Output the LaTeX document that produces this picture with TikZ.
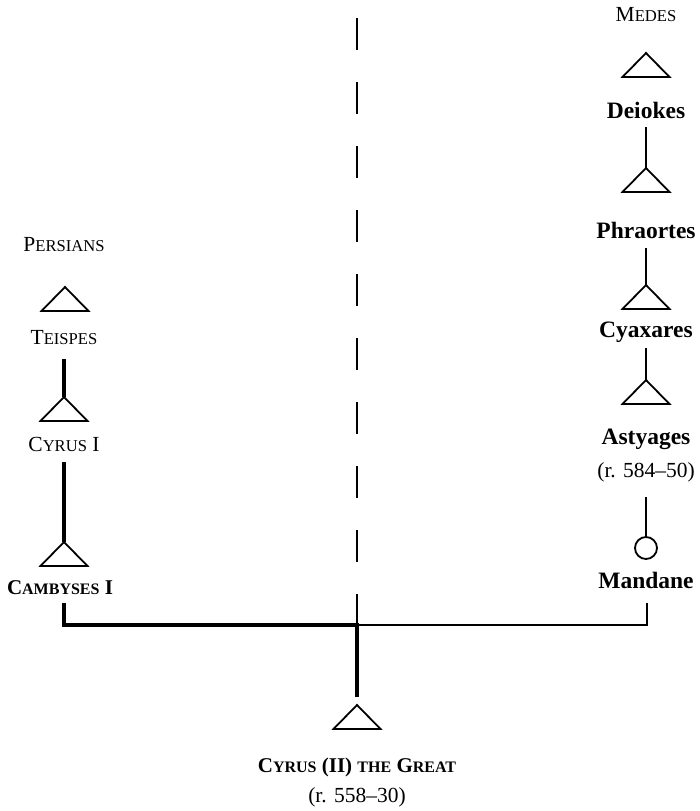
\documentclass[tikz,border=0pt]{standalone}
\usepackage{fontspec}
\setmainfont{Liberation Serif}
\newcommand\smc[1]{{\fontsize{16.6}{18}\selectfont #1}}
\newcommand\smcb[1]{{\fontsize{16}{18}\selectfont #1}}
\tikzset{
  lbl/.style={font=\fontsize{21.5}{24}\selectfont, inner sep=0pt, anchor=center},
  blbl/.style={lbl, font=\fontsize{21}{24}\selectfont\bfseries},
  nlbl/.style={lbl, font=\fontsize{23.5}{26}\selectfont\bfseries},
  thin/.style={line width=1.9pt},
  thick5/.style={line width=4.8pt},
  tri/.style={line width=1.8pt, line join=miter},
  dashline/.style={line width=2.1pt, dash pattern=on 32pt off 32pt},
}
\newcommand\tri[1]{\draw[tri] (#1) -- ++(-23.5,24) -- ++(47,0) -- cycle;}
\begin{document}
\begin{tikzpicture}[x=1pt,y=-1pt]
\useasboundingbox (0,0) rectangle (699,811);
% dashed divider
\coordinate (dtop) at (357,18);
\coordinate (dbot) at (357,626);
\draw[dashline] (dtop) -- (dbot);

% ---- Persians (left) ----
\node[lbl] (persians) at (64,245) {P\smc{ERSIANS}};
\coordinate (t1) at (65,287); \tri{t1}
\node[lbl] (teispes) at (64,338) {T\smc{EISPES}};
\coordinate (l1) at (64,359);
\coordinate (t2) at (64,397); \tri{t2}
\draw[thick5] (l1) -- (t2);
\node[lbl] (cyrus1) at (64,444) {C\smc{YRUS} I};
\coordinate (l2) at (64,462);
\coordinate (t3) at (64,542); \tri{t3}
\draw[thick5] (l2) -- (t3);
\node[blbl] (cambyses) at (60,588) {C\smcb{\bfseries AMBYSES} I};

% ---- Medes (right) ----
\node[lbl] (medes) at (646,15) {M\smc{EDES}};
\coordinate (m1) at (646,53); \tri{m1}
\node[nlbl] (deiokes) at (646,110) {Deiokes};
\coordinate (ml1) at (646,127);
\coordinate (m2) at (646,168); \tri{m2}
\draw[thin] (ml1) -- (m2);
\node[nlbl] (phraortes) at (646,230) {Phraortes};
\coordinate (ml2) at (646,248);
\coordinate (m3) at (646,285); \tri{m3}
\draw[thin] (ml2) -- (m3);
\node[nlbl] (cyaxares) at (646,332) {Cyaxares};
\coordinate (ml3) at (646,348);
\coordinate (m4) at (646,380); \tri{m4}
\draw[thin] (ml3) -- (m4);
\node[nlbl] (astyages) at (646,439) {Astyages};
\node[lbl] (astreign) at (646,472) {(r. 584–50)};
\coordinate (ml4) at (646,497);
\node[draw, circle, line width=1.8pt, minimum size=22pt, inner sep=0pt] (mandc) at (646,548) {};
\draw[thin] (ml4) -- (mandc.north);
\node[nlbl] (mandane) at (646,580) {Mandane};

% ---- marriage line and child ----
\coordinate (cl) at (64,603);
\coordinate (jl) at (64,625);
\coordinate (jc) at (357,625);
\coordinate (cr) at (647,603);
\coordinate (jr) at (647,625);
\draw[thin] (jc) -- (jr) -- (cr);
\draw[thick5, line join=miter] (cl) -- (jl) -- (jc);
\coordinate (c1) at (357,705);
\draw[thick5] (357,623) -- (357,697);
\tri{c1}
\node[blbl] (cyrus2) at (357,767) {C\smcb{\bfseries YRUS} (II) \smcb{\bfseries THE} G\smcb{\bfseries REAT}};
\node[lbl] (c2reign) at (357,797) {(r. 558–30)};
\end{tikzpicture}
\end{document}
